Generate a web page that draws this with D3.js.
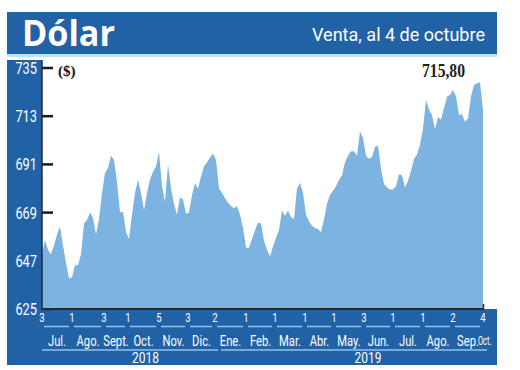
<!DOCTYPE html>
<html>
<head>
<meta charset="utf-8">
<script src="https://cdn.jsdelivr.net/npm/d3@7"></script>
<style>
  html, body { margin: 0; padding: 0; background: #ffffff; }
  svg { display: block; }
</style>
</head>
<body>
<svg id="chart" width="520" height="370"></svg>
<script>
// ---- Data ----
const title = "Dólar";
const subtitle = "Venta, al 4 de octubre";
const unitLabel = "($)";
const lastValueLabel = "715,80";
const yTicks = [625, 647, 669, 691, 713, 735];

// Dollar selling price, sampled evenly in trading time from 3 Jul 2018 to 4 Oct 2019
const values = [
  650.5, 656.5, 652, 650, 654, 659, 662.6, 654, 646, 639,
  639.5, 645, 645, 650, 664, 665.6, 669, 666.5, 659, 666,
  678, 687, 689.5, 695, 693, 683, 669, 669.5, 660, 657,
  668, 678, 684, 678, 670, 678, 684, 687.7, 690, 696.8,
  681, 674, 691, 680, 673, 668, 676, 675, 668.5, 669,
  677, 682.4, 680, 685.5, 690, 692, 694, 696, 693, 680,
  678, 675.5, 673.5, 672, 671, 672, 668, 662, 653, 653,
  657, 661, 664.5, 664, 656, 652, 649, 653.5, 657.5, 661,
  670, 667.5, 670, 667, 666, 680, 682.5, 678, 668, 665,
  663, 662, 661.5, 660, 666, 673, 677, 679, 681, 684,
  686, 692, 695, 697, 697, 695, 706, 703, 695, 693.5,
  694.5, 699, 699.5, 689, 682, 680.5, 679.5, 679.5, 681, 686.5,
  686, 680.5, 683.5, 688, 693.5, 695.5, 700, 707.5, 720.4, 716,
  713.5, 707, 712.5, 711.5, 716.5, 722, 722.7, 725, 722, 713.5,
  714, 710.5, 712, 722, 727.2, 728, 728.5, 715.8
];

// Month starts (position in the sample sequence above) and their first trading day
const monthNames = ["Jul.", "Ago.", "Sept.", "Oct.", "Nov.", "Dic.", "Ene.", "Feb.",
                    "Mar.", "Abr.", "May.", "Jun.", "Jul.", "Ago.", "Sep.", "Oct."];
const monthStart = [0, 10, 20.67, 28.67, 39, 48.67, 57.67, 68,
                    77.67, 87.67, 97.33, 107.33, 117, 127, 137, 147];
const firstDay = ["3", "1", "3", "1", "5", "3", "2", "1",
                  "1", "1", "1", "3", "1", "1", "2", "4"];
const years = ["2018", "2019"];
const yearFirstMonth = [0, 6];

// ---- Drawing ----
const W = 520, H = 370;
const darkBlue = "#2162a7";
const areaBlue = "#7cb3e0";
const paleBlue = "#bfe3f7";
const lineBlue = "#8cc4ec";
const svg = d3.select("#chart");

const plot = { left: 42, right: 483, top: 68, bottom: 309 };
const x = d3.scaleLinear().domain([0, values.length - 1]).range([plot.left, plot.right]);
const y = d3.scaleLinear().domain([625, 735]).range([plot.bottom, plot.top]);

const sans = "Roboto, 'Liberation Sans', sans-serif";
const serif = "'Liberation Serif', 'DejaVu Serif', serif";

// narrow text helper: horizontal squeeze
function narrowText(parent, txt, tx, ty, opts) {
  const o = Object.assign({ size: 13, sx: 0.8, anchor: "middle", fill: "#fff", family: sans, weight: "normal" }, opts || {});
  return parent.append("text")
    .attr("transform", `translate(${tx},${ty}) scale(${o.sx},1)`)
    .attr("text-anchor", o.anchor).attr("font-family", o.family).attr("font-weight", o.weight)
    .attr("font-size", o.size).attr("fill", o.fill).text(txt);
}

// frame
svg.append("rect").attr("x", 0).attr("y", 0).attr("width", W).attr("height", H).attr("fill", "#fff");
svg.append("rect").attr("x", 7).attr("y", 12).attr("width", 490).attr("height", 42).attr("fill", darkBlue);
svg.append("rect").attr("x", 7).attr("y", 54).attr("width", 490).attr("height", 3).attr("fill", paleBlue);
svg.append("rect").attr("x", 7).attr("y", 60).attr("width", plot.left - 7).attr("height", 365 - 60).attr("fill", darkBlue);
svg.append("rect").attr("x", 7).attr("y", plot.bottom).attr("width", 490).attr("height", 365 - plot.bottom).attr("fill", darkBlue);

// title texts
svg.append("text").attr("x", 22).attr("y", 46)
  .attr("font-family", "'Open Sans', 'DejaVu Sans', sans-serif").attr("font-weight", "bold")
  .attr("font-size", 36).attr("fill", "#fff").attr("textLength", 93).attr("lengthAdjust", "spacingAndGlyphs")
  .text(title);
svg.append("text").attr("x", 312).attr("y", 41)
  .attr("font-family", sans).attr("font-size", 19).attr("fill", "#fff")
  .attr("textLength", 173).attr("lengthAdjust", "spacingAndGlyphs").text(subtitle);

// y ticks (marks lie under the area)
const gy = svg.append("g");
gy.selectAll("line.ytick").data(yTicks).join("line").attr("class", "ytick")
  .attr("x1", plot.left).attr("x2", plot.left + 11)
  .attr("y1", d => y(d)).attr("y2", d => y(d))
  .attr("stroke", "#1b1b1b").attr("stroke-width", 2.5);
yTicks.forEach(v => narrowText(gy, d3.format("d")(v), 37, y(v) + 6, { size: 16, sx: 0.8, anchor: "end" }));

// area
const area = d3.area()
  .x((d, i) => x(i))
  .y0(y(625))
  .y1(d => y(d));
svg.append("path").datum(values).attr("d", area).attr("fill", areaBlue);

// axis lines
svg.append("line").attr("x1", plot.left).attr("x2", plot.left)
  .attr("y1", 60).attr("y2", plot.bottom + 1).attr("stroke", "#1d2a3e").attr("stroke-width", 1.5);
svg.append("line").attr("x1", plot.left).attr("x2", plot.right + 1)
  .attr("y1", plot.bottom).attr("y2", plot.bottom).attr("stroke", "#2a2a2a").attr("stroke-width", 2);
svg.append("line").attr("x1", plot.right + 0.5).attr("x2", plot.right + 0.5)
  .attr("y1", plot.bottom - 5).attr("y2", plot.bottom).attr("stroke", "#2a2a2a").attr("stroke-width", 1.5);

// annotations
svg.append("text").attr("x", 58).attr("y", 76)
  .attr("font-family", serif).attr("font-weight", "bold")
  .attr("font-size", 15).attr("fill", "#111").text(unitLabel);
svg.append("text").attr("x", 422).attr("y", 77)
  .attr("font-family", serif).attr("font-weight", "bold")
  .attr("font-size", 19).attr("fill", "#222")
  .attr("textLength", 43).attr("lengthAdjust", "spacingAndGlyphs").text(lastValueLabel);

// x axis: first trading days, month names, years
const gx = svg.append("g");
firstDay.forEach((d, i) => narrowText(gx, d, x(monthStart[i]), 322, { size: 12, sx: 0.8 }));

const last = monthStart.length - 1;
gx.selectAll("line.mline").data(monthStart.slice(0, last)).join("line").attr("class", "mline")
  .attr("x1", d => x(d) + 2).attr("x2", (d, i) => x(monthStart[i + 1]) - 3)
  .attr("y1", 326.5).attr("y2", 326.5).attr("stroke", lineBlue).attr("stroke-width", 1.5);

monthNames.forEach((m, i) => {
  if (i < last) {
    narrowText(gx, m, (x(monthStart[i]) + x(monthStart[i + 1])) / 2, 346, { size: 14, sx: 0.8 });
  } else {
    narrowText(gx, m, x(monthStart[i]) - 5, 345, { size: 12, sx: 0.62, anchor: "start" });
  }
});

years.forEach((yr, k) => {
  const s = x(monthStart[yearFirstMonth[k]]);
  const e = k + 1 < years.length ? x(monthStart[yearFirstMonth[k + 1]]) : plot.right + 4;
  gx.append("line").attr("x1", s + (k ? 6 : 0)).attr("x2", e + (k + 1 < years.length ? 3 : 0))
    .attr("y1", 350).attr("y2", 350).attr("stroke", lineBlue).attr("stroke-width", 1.5);
  narrowText(gx, yr, (s + e) / 2 + 17, 363, { size: 15, sx: 0.8 });
});
</script>
</body>
</html>
